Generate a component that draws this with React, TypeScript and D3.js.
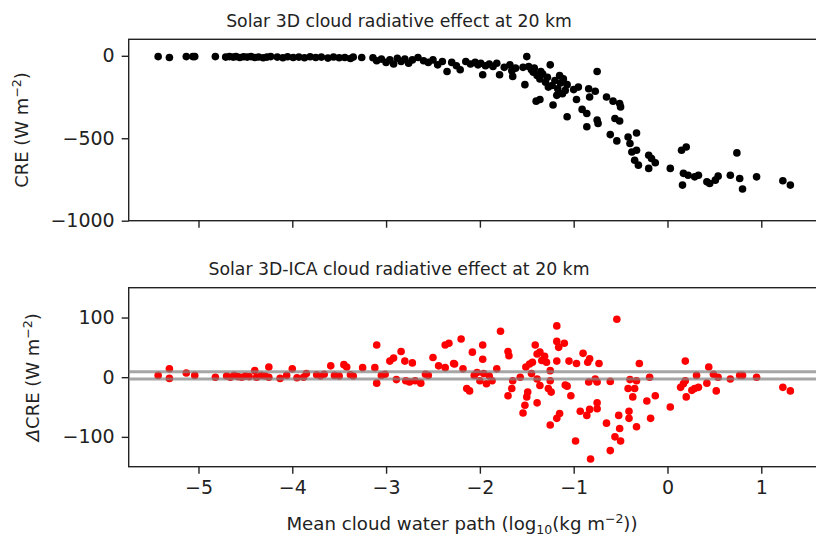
import React, { useEffect, useRef } from "react";
import * as d3 from "d3";

// log10 cloud water path vs 3D cloud radiative effect (W m-2)
const crePoints: [number, number][] = [
  [-5.43, -5], [-5.31, -10], [-5.13, -5], [-5.06, -5], [-5.04, -5], [-4.82, -5],
  [-4.71, -8], [-4.67, -5], [-4.63, -8], [-4.6, -5], [-4.56, -10], [-4.52, -6], [-4.48, -8],
  [-4.44, -5], [-4.4, -10], [-4.36, -7], [-4.31, -12], [-4.27, -8], [-4.23, -5],
  [-4.16, -8], [-4.1, -12], [-4.05, -6], [-3.99, -10], [-3.93, -8], [-3.87, -12], [-3.81, -6],
  [-3.75, -10], [-3.69, -8], [-3.62, -14], [-3.56, -7], [-3.5, -12], [-3.44, -10], [-3.38, -16],
  [-3.35, -8], [-3.26, -10],
  [-3.14, -12], [-3.1, -30], [-3.05, -20], [-3.0, -40], [-2.96, -25], [-2.92, -50], [-2.88, -15],
  [-2.84, -35], [-2.8, -20], [-2.76, -45], [-2.72, -25], [-2.66, -10], [-2.6, -30], [-2.55, -40],
  [-2.5, -25], [-2.45, -55], [-2.4, -35], [-2.35, -95], [-2.3, -40], [-2.25, -60], [-2.21, -85],
  [-2.15, -35], [-2.1, -50], [-2.05, -40], [-2.02, -55], [-1.99, -45], [-1.97, -115], [-1.94, -60],
  [-1.9, -50], [-1.86, -65], [-1.82, -45], [-1.79, -115], [-1.74, -70], [-1.68, -55], [-1.66, -90],
  [-1.65, -125], [-1.62, -75], [-1.5, -5], [-1.54, -70], [-1.52, -175], [-1.48, -65], [-1.45, -85],
  [-1.42, -75], [-1.39, -120], [-1.36, -140], [-1.33, -110], [-1.3, -160], [-1.28, -130],
  [-1.25, -55], [-1.23, -180], [-1.2, -150], [-1.17, -200], [-1.14, -165], [-1.11, -140],
  [-1.09, -210], [-1.07, -175], [-1.43, -100], [-1.35, -95], [-1.27, -190], [-1.15, -120],
  [-1.12, -230], [-1.0, -205], [-0.95, -190],
  [-1.4, -275], [-1.36, -265], [-1.22, -298], [-1.18, -240], [-1.07, -370], [-0.97, -265],
  [-0.84, -200], [-0.77, -215], [-0.83, -250], [-0.75, -95], [-0.91, -325], [-0.86, -350],
  [-0.86, -430], [-0.75, -390], [-0.74, -410], [-0.65, -250], [-0.58, -275], [-0.51, -290],
  [-0.5, -310], [-0.56, -380], [-0.51, -395], [-0.61, -478], [-0.54, -516], [-0.42, -492],
  [-0.4, -532], [-0.33, -468], [-0.38, -583], [-0.33, -573], [-0.35, -633], [-0.31, -663],
  [-0.2, -603], [-0.17, -623], [-0.13, -649], [-0.2, -683], [0.03, -683], [0.15, -573],
  [0.2, -553], [0.17, -713], [0.22, -724], [0.29, -734], [0.33, -724], [0.16, -784],
  [0.42, -764], [0.45, -774], [0.51, -754], [0.54, -730], [0.67, -724], [0.74, -589],
  [0.77, -744], [0.8, -808], [0.95, -734], [1.23, -758], [1.31, -784],
];

// 3D minus ICA difference
const dCrePoints: [number, number][] = [
  [-5.43, 3], [-5.31, 14], [-5.31, -2], [-5.13, 7], [-5.04, 3], [-4.82, 0],
  [-4.7, 2], [-4.66, 0], [-4.62, 3], [-4.58, 1], [-4.54, 0], [-4.5, 2], [-4.46, 1], [-4.4, 11],
  [-4.38, 0], [-4.33, 3], [-4.29, 2], [-4.25, 17], [-4.25, 0],
  [-4.13, -2], [-4.06, 3], [-4.0, 14], [-3.95, -1], [-3.88, 0], [-3.85, 6],
  [-3.74, 4], [-3.7, 2], [-3.66, 5], [-3.59, 19], [-3.55, 3], [-3.5, 2], [-3.45, 21], [-3.42, 17],
  [-3.38, 4], [-3.35, 2], [-3.25, 16], [-3.12, 16], [-3.1, 54], [-3.1, -10], [-3.05, 3], [-3.01, 5],
  [-2.96, 27], [-2.92, 32], [-2.84, 43], [-2.8, 27], [-2.72, 24],
  [-2.89, -4], [-2.79, -6], [-2.75, -8], [-2.69, -6], [-2.63, -10], [-2.58, 5], [-2.55, 3],
  [-2.5, 33], [-2.44, 19], [-2.37, 16], [-2.28, 23], [-2.27, 22], [-2.37, 54], [-2.33, 57],
  [-2.2, 64], [-2.14, -19], [-2.11, -23], [-2.08, 42], [-2.18, 14],
  [-1.97, 54], [-1.97, 30], [-2.03, 8], [-1.96, 6], [-2.0, -6], [-1.93, -11], [-1.87, -6],
  [-1.82, 14], [-2.06, 3], [-1.9, 2],
  [-1.78, 77], [-1.7, 43], [-1.69, 36], [-1.7, -31], [-1.66, -19], [-1.65, -6], [-1.57, 0],
  [-1.54, -60], [-1.52, -47], [-1.5, -33], [-1.49, -25], [-1.51, 17], [-1.47, 22], [-1.44, 25],
  [-1.41, 54], [-1.39, 39], [-1.36, 42], [-1.31, 35], [-1.29, 25], [-1.34, 28], [-1.45, 6],
  [-1.39, -3], [-1.36, -14], [-1.39, -43],
  [-1.25, 11], [-1.25, -6], [-1.27, -19], [-1.24, -25], [-1.25, -80], [-1.18, -69], [-1.15, -61],
  [-1.18, 86], [-1.18, 60], [-1.16, 50], [-1.1, 57], [-1.18, 27],
  [-1.09, -13], [-1.07, -15], [-1.03, -31], [-1.05, 27], [-0.97, 23], [-0.98, -107],
  [-0.9, 40], [-0.85, 25], [-0.83, 31], [-0.73, 23], [-0.93, -57], [-0.86, -64], [-0.83, -54],
  [-0.84, -8], [-0.77, -3], [-0.75, -8], [-0.75, -43], [-0.75, -53], [-0.82, -137],
  [-0.65, -77], [-0.61, -123], [-0.61, -7], [-0.54, 97], [-0.52, -64], [-0.51, -86], [-0.56, -100],
  [-0.5, -107], [-0.41, -57], [-0.41, -69], [-0.42, -19], [-0.35, -19], [-0.37, -33], [-0.4, -4],
  [-0.33, -6], [-0.33, -83], [-0.3, 23], [-0.22, -40], [-0.19, 0], [-0.18, -69], [-0.13, -31],
  [0.03, -50], [0.14, -17], [0.17, -11], [0.2, -33], [0.19, -6], [0.19, 27], [0.26, -22],
  [0.29, -19], [0.33, -17], [0.31, 3], [0.42, -10], [0.44, 17], [0.49, 5], [0.54, 0], [0.52, -23],
  [0.67, -3], [0.77, 3], [0.8, 3], [0.95, 0], [1.23, -17], [1.31, -23],
];

const xTicks = [-5, -4, -3, -2, -1, 0, 1];
const creTicks = [0, -500, -1000];
const dCreTicks = [100, 0, -100];
const refLevels = [9, -3];

const FONT = "DejaVu Sans, sans-serif";

const App = () => {
  const svgRef = useRef<SVGSVGElement | null>(null);
  const width = 816;
  const height = 539;

  useEffect(() => {
    const svg = d3.select(svgRef.current);
    svg.selectAll("*").remove();

    const left = 128.7;
    const right = 826;
    const top1 = 39.3, bottom1 = 220.7;
    const top2 = 287.7, bottom2 = 466.7;

    const x = d3.scaleLinear().domain([-5.744, 1.69]).range([left, right]);
    const y1 = d3.scaleLinear().domain([-1000, 100]).range([bottom1, top1]);
    const y2 = d3.scaleLinear().domain([-150, 150]).range([bottom2, top2]);

    const styleAxis = (g) => {
      g.select(".domain").remove();
      g.selectAll(".tick line").attr("stroke", "#222").attr("stroke-width", 1.4);
      g.selectAll(".tick text")
        .attr("fill", "#222")
        .style("font-family", FONT)
        .style("font-size", "19px");
    };

    const panel = (yScale, yTicks, top, bottom, showX) => {
      svg.append("g")
        .attr("transform", `translate(${left},0)`)
        .call(d3.axisLeft(yScale).tickValues(yTicks).tickSize(7).tickPadding(7).tickFormat(d3.format("d")))
        .call(styleAxis);

      svg.append("g")
        .attr("transform", `translate(0,${bottom})`)
        .call(
          d3.axisBottom(x).tickValues(xTicks).tickSize(7).tickPadding(7)
            .tickFormat(showX ? d3.format("d") : () => "")
        )
        .call(styleAxis);

      svg.append("rect")
        .attr("x", left)
        .attr("y", top)
        .attr("width", right - left)
        .attr("height", bottom - top)
        .attr("fill", "none")
        .attr("stroke", "#222")
        .attr("stroke-width", 1.4);
    };

    panel(y1, creTicks, top1, bottom1, false);
    panel(y2, dCreTicks, top2, bottom2, true);

    // top panel points
    svg.append("g")
      .selectAll("circle")
      .data(crePoints)
      .join("circle")
      .attr("cx", (d) => x(d[0]))
      .attr("cy", (d) => y1(d[1]))
      .attr("r", 3.8)
      .attr("fill", "black");

    // bottom panel points
    svg.append("g")
      .selectAll("circle")
      .data(dCrePoints)
      .join("circle")
      .attr("cx", (d) => x(d[0]))
      .attr("cy", (d) => y2(d[1]))
      .attr("r", 3.8)
      .attr("fill", "red");

    svg.append("g")
      .selectAll("line")
      .data(refLevels)
      .join("line")
      .attr("x1", left)
      .attr("x2", right)
      .attr("y1", (d) => y2(d))
      .attr("y2", (d) => y2(d))
      .attr("stroke", "#808080")
      .attr("stroke-opacity", 0.7)
      .attr("stroke-width", 3);

    const titleX = 399;
    const titles = [
      ["Solar 3D cloud radiative effect at 20 km", 27],
      ["Solar 3D-ICA cloud radiative effect at 20 km", 275],
    ];
    titles.forEach(([t, yy]) => {
      svg.append("text")
        .attr("x", titleX)
        .attr("y", yy as number)
        .attr("text-anchor", "middle")
        .style("font-family", FONT)
        .style("font-size", "17.3px")
        .attr("fill", "#222")
        .text(t as string);
    });

    // y labels
    const ylab1 = svg.append("text")
      .attr("transform", `translate(28,${(top1 + bottom1) / 2}) rotate(-90)`)
      .attr("text-anchor", "middle")
      .style("font-family", FONT)
      .style("font-size", "18px")
      .attr("fill", "#222");
    ylab1.append("tspan").text("CRE (W m");
    ylab1.append("tspan").attr("dy", -7).style("font-size", "12.5px").text("−2");
    ylab1.append("tspan").attr("dy", 7).text(")");

    const ylab2 = svg.append("text")
      .attr("transform", `translate(39,${(top2 + bottom2) / 2}) rotate(-90)`)
      .attr("text-anchor", "middle")
      .style("font-family", FONT)
      .style("font-size", "18px")
      .attr("fill", "#222");
    ylab2.append("tspan").style("font-style", "italic").text("Δ");
    ylab2.append("tspan").text("CRE (W m");
    ylab2.append("tspan").attr("dy", -7).style("font-size", "12.5px").text("−2");
    ylab2.append("tspan").attr("dy", 7).text(")");

    // x label
    const xlab = svg.append("text")
      .attr("x", 462)
      .attr("y", 530)
      .attr("text-anchor", "middle")
      .style("font-family", FONT)
      .style("font-size", "18.2px")
      .attr("fill", "#222");
    xlab.append("tspan").text("Mean cloud water path (log");
    xlab.append("tspan").attr("dy", 4).style("font-size", "12.5px").text("10");
    xlab.append("tspan").attr("dy", -4).text("(kg m");
    xlab.append("tspan").attr("dy", -7).style("font-size", "12.5px").text("−2");
    xlab.append("tspan").attr("dy", 7).text("))");
  }, []);

  return (
    <svg
      ref={svgRef}
      width={width}
      height={height}
      viewBox={`0 0 ${width} ${height}`}
      style={{ position: "absolute", left: 0, top: 0, background: "white" }}
    ></svg>
  );
};

export default App;
